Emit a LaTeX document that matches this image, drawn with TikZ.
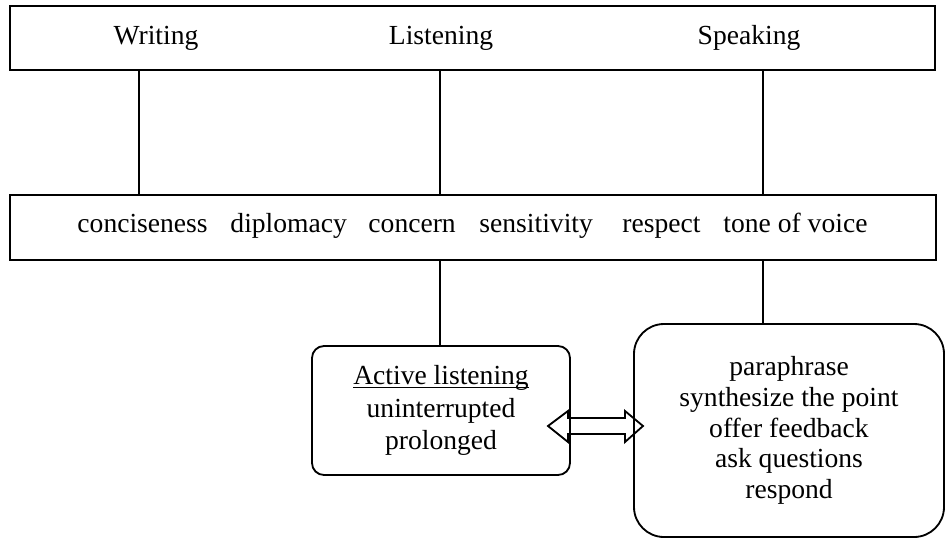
\documentclass[tikz,border=0pt]{standalone}
\usepackage{fontspec}
\setmainfont{Liberation Serif}

\begin{document}
\begin{tikzpicture}[
	x = 0.435pt, y = -0.435pt,
	every node/.style = {font = \fontsize{12}{14}\selectfont},
	bar/.style = {draw, line width = 0.8pt, inner sep = 0pt},
	word/.style = {anchor = base, inner sep = 0pt},
	item/.style = {anchor = base west, inner sep = 0pt},
	card/.style = {draw, line width = 0.8pt, align = center, inner sep = 0pt},
	link/.style = {line width = 0.8pt}]
	\def\u{0.435pt}

	\useasboundingbox (0,0) rectangle (946,539);

	% the three skills
	\node[bar, minimum width = 925*\u, minimum height = 64*\u] (skills) at (472.5,38) {};
	\node[word] (writing) at (156,44) {Writing};
	\node[word] (listening) at (441,44) {Listening};
	\node[word] (speaking) at (749,44) {Speaking};

	% what they share
	\node[bar, minimum width = 926*\u, minimum height = 65*\u] (traits) at (473,227.5) {};
	\node[item] (concise) at (77,232) {conciseness};
	\node[item] (diplo) at (230,232) {diplomacy};
	\node[item] (concern) at (368,232) {concern};
	\node[item] (sensi) at (479,232) {sensitivity};
	\node[item] (respect) at (622,232) {respect};
	\node[item] (tone) at (723,232) {tone of voice};

	% the two boxes below
	\node[card, rounded corners = 12*\u, minimum width = 258*\u, minimum height = 129*\u,
		font = \fontsize{12}{14.1}\selectfont] (active) at (441,410.5)
		{\sbox0{Active listening}\rlap{\rule[-1.6pt]{\wd0}{0.5pt}}\usebox0\\uninterrupted\\prolonged};
	\node[card, rounded corners = 30*\u, minimum width = 310*\u, minimum height = 213*\u,
		font = \fontsize{12}{13.4}\selectfont] (respond) at (789,430.5)
		{paraphrase\\synthesize the point\\offer feedback\\ask questions\\respond};

	% connectors
	\coordinate (w) at (139,0);
	\coordinate (l) at (440,0);
	\coordinate (s) at (763,0);
	\draw[link] (skills.south -| w) -- (traits.north -| w);
	\draw[link] (skills.south -| l) -- (traits.north -| l);
	\draw[link] (skills.south -| s) -- (traits.north -| s);
	\draw[link] (traits.south -| l) -- (active.north -| l);
	\draw[link] (traits.south -| s) -- (respond.north -| s);

	% two-way arrow
	\draw[link] (548,426) -- (568,411) -- (568,418) -- (625,418) -- (625,411) -- (643,426)
		-- (625,442) -- (625,434) -- (568,434) -- (568,442) -- cycle;

\end{tikzpicture}
\end{document}
